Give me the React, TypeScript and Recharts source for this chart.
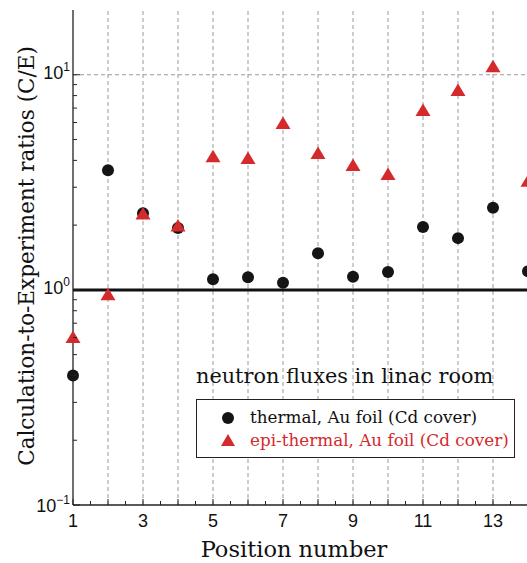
import {
  ComposedChart,
  Scatter,
  XAxis,
  YAxis,
  ReferenceLine,
} from "recharts";

const positions = [1, 2, 3, 4, 5, 6, 7, 8, 9, 10, 11, 12, 13, 14];
const thermal = [0.4, 3.6, 2.27, 1.94, 1.12, 1.145, 1.08, 1.48, 1.15, 1.21, 1.96, 1.74, 2.41, 1.22];
const epiThermal = [0.6, 0.95, 2.25, 1.98, 4.16, 4.08, 5.93, 4.31, 3.79, 3.44, 6.83, 8.46, 10.9, 3.2];

const xTicks = [1, 1.5, 2, 2.5, 3, 3.5, 4, 4.5, 5, 5.5, 6, 6.5, 7, 7.5, 8, 8.5, 9, 9.5, 10, 10.5, 11, 11.5, 12, 12.5, 13, 13.5, 14];
const xLabels = [1, 3, 5, 7, 9, 11, 13];
const yTicks = [0.1, 0.2, 0.3, 0.4, 0.5, 0.6, 0.7, 0.8, 0.9, 1, 2, 3, 4, 5, 6, 7, 8, 9, 10];
const yMajor: Record<string, string> = { "0.1": "\u22121", "1": "0", "10": "1" };
const gridXs = [2, 3, 4, 5, 6, 7, 8, 9, 10, 11, 12, 13];

const thermalData = positions.map((x, i) => ({ x, y: thermal[i] }));
const epiData = positions.map((x, i) => ({ x, y: epiThermal[i] }));

const RED = "#d42a2c";
const SERIF = "'DejaVu Serif', serif";
const SANS = "'Liberation Sans', Arial, sans-serif";

function Dot(props: any) {
  const { cx, cy } = props;
  if (cx == null || cy == null) return null;
  return <circle cx={cx} cy={cy} r={6} fill="#151515" />;
}

function Tri(props: any) {
  const { cx, cy } = props;
  if (cx == null || cy == null) return null;
  return (
    <polygon
      points={`${cx},${cy - 7} ${cx - 7.5},${cy + 5.5} ${cx + 7.5},${cy + 5.5}`}
      fill={RED}
    />
  );
}

function BottomTick({ x, y, payload }: any) {
  const v = payload.value;
  const major = Number.isInteger(v);
  return (
    <g>
      <line x1={x} x2={x} y1={y} y2={y - (major ? 6 : 4)} stroke="#222" strokeWidth={1} />
      {xLabels.includes(v) && (
        <text x={x} y={y + 22} textAnchor="middle" fontSize={18} fontFamily={SANS} fill="#111">
          {v}
        </text>
      )}
    </g>
  );
}

function TopTick({ x, y, payload }: any) {
  const major = Number.isInteger(payload.value);
  return <line x1={x} x2={x} y1={y} y2={y + (major ? 6 : 4)} stroke="#222" strokeWidth={1} />;
}

function LeftTick({ x, y, payload }: any) {
  const exp = yMajor[String(payload.value)];
  return (
    <g>
      <line x1={x} x2={x + (exp ? 7 : 4)} y1={y} y2={y} stroke="#222" strokeWidth={1} />
      {exp && (
        <text
          x={x - 3}
          y={y + (payload.value === 0.1 ? 7 : 4)}
          textAnchor="end"
          fontSize={18}
          fontFamily={SANS}
          fill="#111"
        >
          <tspan>10</tspan>
          <tspan dy={-8} fontSize={12}>
            {exp}
          </tspan>
        </text>
      )}
    </g>
  );
}

function RightTick({ x, y, payload }: any) {
  const exp = yMajor[String(payload.value)];
  return <line x1={x} x2={x - (exp ? 7 : 5)} y1={y} y2={y} stroke="#222" strokeWidth={1} />;
}

export default function App() {
  return (
    <div
      style={{
        position: "fixed",
        left: 0,
        top: 0,
        width: 527,
        height: 563,
        overflow: "hidden",
        background: "#fff",
      }}
    >
      <ComposedChart
        width={540}
        height={563}
        margin={{ top: 10, right: 12, left: 0, bottom: 0 }}
      >
        <XAxis
          xAxisId="b"
          type="number"
          dataKey="x"
          domain={[1, 14]}
          ticks={xTicks}
          interval={0}
          tickSize={0}
          tickMargin={0}
          tick={BottomTick}
          height={58}
          axisLine={{ stroke: "#222", strokeWidth: 1.3 }}
          label={{
            content: () => (
              <text x={294} y={557} textAnchor="middle" fontSize={22.5} fontFamily={SERIF} fill="#111">
                Position number
              </text>
            ),
          }}
        />
        <XAxis
          xAxisId="t"
          orientation="top"
          type="number"
          domain={[1, 14]}
          ticks={xTicks}
          interval={0}
          tickSize={0}
          tickMargin={0}
          tick={TopTick}
          height={0}
          axisLine={{ stroke: "#222", strokeWidth: 1.3 }}
        />
        <YAxis
          yAxisId="l"
          type="number"
          scale="log"
          domain={[0.1, 20]}
          allowDataOverflow
          ticks={yTicks}
          interval={0}
          tickSize={0}
          tickMargin={0}
          tick={LeftTick}
          width={73}
          axisLine={{ stroke: "#222", strokeWidth: 1.3 }}
          label={{
            content: () => (
              <text
                x={26}
                y={256}
                transform="rotate(-90 26 256)"
                textAnchor="middle"
                dominantBaseline="central"
                fontSize={21.5}
                fontFamily={SERIF}
                fill="#111"
              >
                Calculation-to-Experiment ratios (C/E)
              </text>
            ),
          }}
        />
        <YAxis
          yAxisId="r"
          orientation="right"
          type="number"
          scale="log"
          domain={[0.1, 20]}
          allowDataOverflow
          ticks={yTicks}
          interval={0}
          tickSize={0}
          tickMargin={0}
          tick={RightTick}
          width={0}
          axisLine={{ stroke: "#222", strokeWidth: 1.3 }}
        />
        {gridXs.map((gx) => (
          <ReferenceLine
            key={gx}
            xAxisId="b"
            yAxisId="l"
            x={gx}
            stroke="#9a9a9a"
            strokeDasharray="4 3"
            strokeWidth={1}
          />
        ))}
        <ReferenceLine xAxisId="b" yAxisId="l" y={10} stroke="#9a9a9a" strokeDasharray="4 3" strokeWidth={1} />
        <ReferenceLine xAxisId="b" yAxisId="l" y={1} stroke="#111" strokeWidth={3} />
        <Scatter
          xAxisId="b"
          yAxisId="l"
          data={thermalData}
          dataKey="y"
          shape={Dot}
          isAnimationActive={false}
        />
        <Scatter
          xAxisId="b"
          yAxisId="l"
          data={epiData}
          dataKey="y"
          shape={Tri}
          isAnimationActive={false}
        />
      </ComposedChart>

      <div
        style={{
          position: "absolute",
          left: 196,
          top: 362,
          fontFamily: SERIF,
          fontSize: 20.8,
          color: "#111",
          background: "transparent",
          whiteSpace: "nowrap",
          lineHeight: "28px",
        }}
      >
        neutron fluxes in linac room
      </div>
      <div
        style={{
          position: "absolute",
          left: 196,
          top: 399,
          width: 319,
          height: 59,
          border: "1px solid #222",
          background: "#fff",
          boxSizing: "border-box",
          fontFamily: SERIF,
          fontSize: 16.8,
          whiteSpace: "nowrap",
        }}
      >
        <div style={{ position: "absolute", left: 25, top: 12, width: 12, height: 12, borderRadius: 6, background: "#151515" }} />
        <div style={{ position: "absolute", left: 53, top: 6, lineHeight: "22px", color: "#111" }}>
          thermal, Au foil (Cd cover)
        </div>
        <div
          style={{
            position: "absolute",
            left: 24,
            top: 34,
            width: 0,
            height: 0,
            borderLeft: "7px solid transparent",
            borderRight: "7px solid transparent",
            borderBottom: `12px solid ${RED}`,
          }}
        />
        <div style={{ position: "absolute", left: 53, top: 29, lineHeight: "22px", color: RED }}>
          epi-thermal, Au foil (Cd cover)
        </div>
      </div>
    </div>
  );
}
